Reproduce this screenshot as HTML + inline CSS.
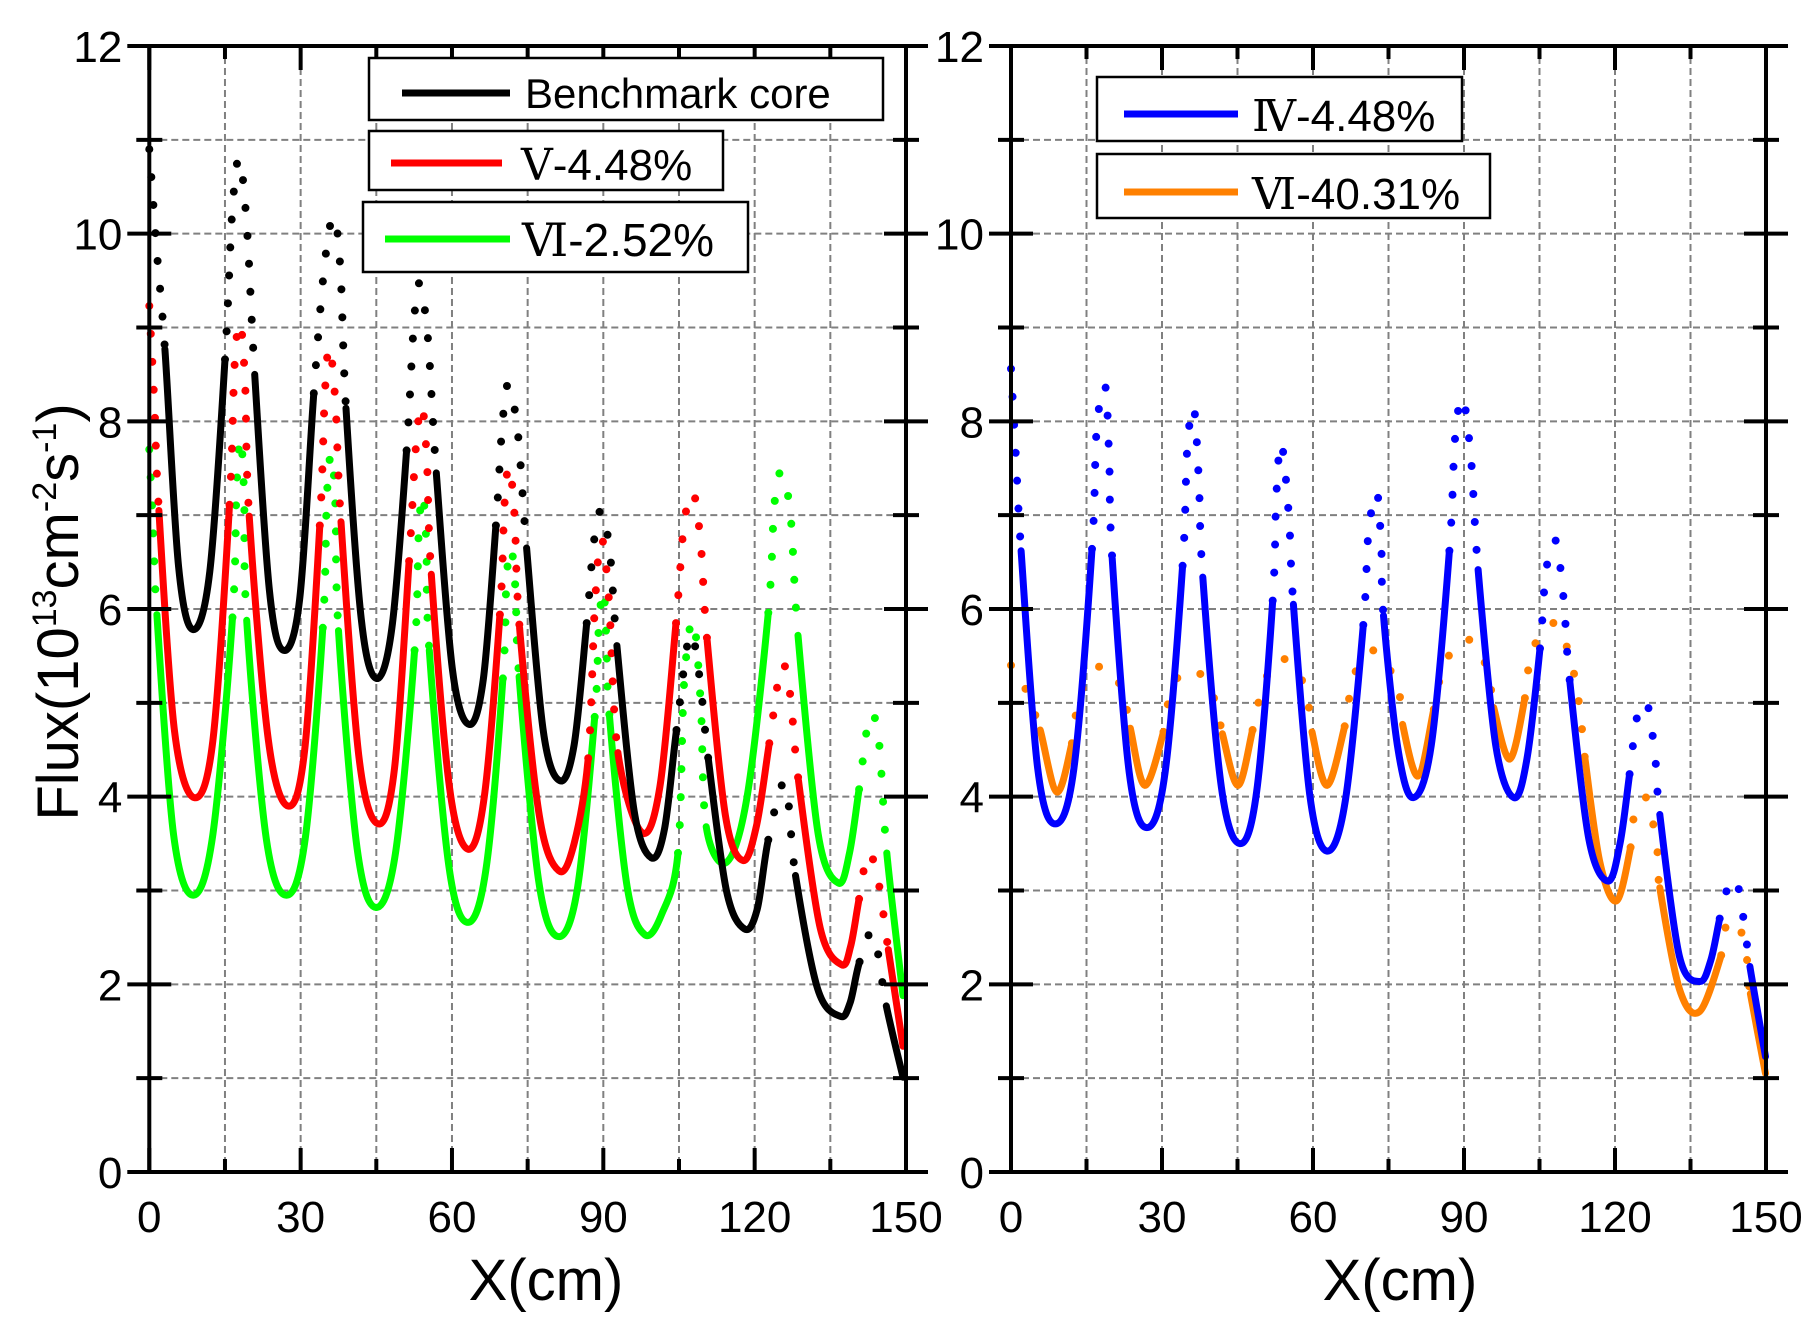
<!DOCTYPE html>
<html><head><meta charset="utf-8">
<style>
html,body{margin:0;padding:0;background:#fff;}
svg{display:block;font-family:"Liberation Sans",sans-serif;}
</style></head>
<body>
<svg id="chart" width="1820" height="1323" viewBox="0 0 1820 1323" xmlns="http://www.w3.org/2000/svg">
<rect x="0" y="0" width="1820" height="1323" fill="#fff"/>
<g id="grid"></g>
<g id="series"></g>
<g id="axes"></g>
<g id="legend-left">
  <rect x="369" y="58" width="514" height="62" fill="#fff" stroke="#000" stroke-width="2.5"/>
  <line x1="402" y1="93" x2="510" y2="93" stroke="#000" stroke-width="7"/>
  <text x="525" y="108" font-size="42">Benchmark core</text>
  <rect x="369" y="131" width="354" height="59" fill="#fff" stroke="#000" stroke-width="2.5"/>
  <line x1="391" y1="163" x2="502" y2="163" stroke="#ff0000" stroke-width="7"/>
  <text x="521" y="180" font-size="44"><tspan font-family="Liberation Serif, DejaVu Serif, serif">Ⅴ</tspan>-4.48%</text>
  <rect x="363" y="202" width="385" height="70" fill="#fff" stroke="#000" stroke-width="2.5"/>
  <line x1="385" y1="239" x2="510" y2="239" stroke="#00ff00" stroke-width="7"/>
  <text x="522" y="256" font-size="46"><tspan font-family="Liberation Serif, DejaVu Serif, serif">Ⅵ</tspan>-2.52%</text>
</g>
<g id="legend-right">
  <rect x="1097" y="77" width="365" height="64" fill="#fff" stroke="#000" stroke-width="2.5"/>
  <line x1="1124" y1="114" x2="1238" y2="114" stroke="#0000ff" stroke-width="7"/>
  <text x="1252" y="131" font-size="44"><tspan font-family="Liberation Serif, DejaVu Serif, serif">Ⅳ</tspan>-4.48%</text>
  <rect x="1097" y="154" width="393" height="64" fill="#fff" stroke="#000" stroke-width="2.5"/>
  <line x1="1124" y1="192" x2="1238" y2="192" stroke="#ff8000" stroke-width="7"/>
  <text x="1252" y="209" font-size="44"><tspan font-family="Liberation Serif, DejaVu Serif, serif">Ⅵ</tspan>-40.31%</text>
</g>
<text x="546" y="1300" font-size="58" text-anchor="middle">X(cm)</text>
<text x="1400" y="1300" font-size="58" text-anchor="middle">X(cm)</text>
<text transform="translate(78,612) rotate(-90)" font-size="58" text-anchor="middle">Flux(10<tspan dy="-22" font-size="34">13</tspan><tspan dy="22">cm</tspan><tspan dy="-22" font-size="34">-2</tspan><tspan dy="22">s</tspan><tspan dy="-22" font-size="34">-1</tspan><tspan dy="22">)</tspan></text>
</svg>
<script>
// ---- data (x in cm, flux in 1e13) ; style: 'd' dotted segment to next point, 's' solid
const benchX=[0,1.5,3.1,5.8,8.7,12.0,15.0,16.4,17.8,19.3,20.9,23.8,26.6,29.8,32.6,34.8,36.6,37.9,39.0,42.0,45.0,48.1,51.0,52.4,53.5,55.2,56.9,60.1,63.4,66.2,68.7,69.9,71.1,73.0,74.8,78.1,81.4,84.2,86.7,88.1,89.6,91.3,92.7,96.1,99.5,102.1,104.5,107.1,109.0,110.8,114.4,118.0,120.5,122.7,126.0,128.1,132.5,136.9,138.9,140.8,143.5,146.1,149.4];
const benchY=[10.9,9.8,8.77,6.45,5.78,6.4,8.66,10.2,10.8,10.1,8.5,6.2,5.56,6.1,8.30,9.7,10.18,9.6,8.14,5.9,5.26,5.8,7.69,9.0,9.47,8.9,7.45,5.35,4.77,5.25,6.89,7.9,8.39,7.9,6.65,4.7,4.17,4.55,5.85,6.7,7.05,6.6,5.61,3.85,3.35,3.65,4.71,5.72,5.3,4.41,3.0,2.59,2.8,3.54,4.14,3.16,1.95,1.66,1.8,2.24,2.54,1.77,1.01];
const benchS="dd"+"ssss"+"dddd"+"ssss"+"dddd"+"ssss"+"dddd"+"ssss"+"dddd"+"ssss"+"dddd"+"ssss"+"ddd"+"ssss"+"dd"+"ssss"+"dd"+"s";

const v448X=[0,1.0,1.9,5.0,8.9,12.6,15.9,16.9,18.0,19.0,19.8,23.6,27.5,30.8,33.8,34.8,35.7,36.9,38.0,41.6,45.4,48.6,51.5,52.8,54.0,55.0,55.9,59.5,63.2,66.4,69.5,70.4,71.3,72.4,73.4,77.3,81.2,84.2,87.0,88.3,89.6,91.1,92.9,97.6,101.2,104.4,106.0,107.8,109.3,110.6,114.2,117.7,120.4,122.9,125.3,127.0,128.7,133.0,137.2,139.0,140.7,142.5,144.5,146.5,149.4];
const v448Y=[9.23,8.2,7.05,4.7,3.99,4.6,7.11,8.6,9.05,8.4,6.99,4.6,3.90,4.5,6.89,8.3,8.79,8.2,6.93,4.4,3.71,4.3,6.51,7.7,8.17,7.6,6.37,4.1,3.44,4.0,5.94,7.1,7.52,7.0,5.80,3.8,3.21,3.5,4.41,6.0,6.75,6.1,4.47,3.62,4.1,5.85,6.9,7.24,6.7,5.66,3.8,3.32,3.7,4.57,5.39,5.1,4.17,2.6,2.21,2.4,2.91,3.40,3.1,2.37,1.34];
const v448S="dd"+"ssss"+"dddd"+"ssss"+"dddd"+"ssss"+"dddd"+"ssss"+"dddd"+"ssss"+"dddd"+"sss"+"dddd"+"ssss"+"ddd"+"ssss"+"ddd"+"s";

const vi252X=[0,0.8,1.5,4.8,8.7,12.6,16.5,17.3,18.1,18.8,19.3,23.2,27.2,30.9,34.4,35.2,36.1,36.9,37.5,41.2,44.9,48.8,52.6,53.4,54.2,54.9,55.5,59.4,63.2,66.8,70.1,70.8,71.7,72.6,73.3,77.2,81.0,84.8,88.3,89.1,90.0,90.6,91.2,94.7,98.2,101.6,104.8,106.0,107.8,109.3,110.4,114.4,118.5,122.7,123.9,125.3,127.1,128.6,132.6,136.6,138.8,140.7,142.8,144.6,146.2,149.4];
const vi252Y=[7.7,6.8,5.94,3.6,2.95,3.6,5.91,7.3,7.82,7.2,5.88,3.55,2.95,3.55,5.80,7.2,7.65,7.1,5.77,3.45,2.82,3.4,5.56,6.8,7.22,6.7,5.56,3.25,2.66,3.25,5.26,6.3,6.65,6.2,5.28,3.1,2.51,3.0,4.85,5.8,6.2,5.7,4.87,3.05,2.53,2.75,3.40,5.2,5.88,5.0,3.68,3.30,4.0,5.96,7.1,7.46,7.0,5.72,3.6,3.08,3.4,4.08,4.86,4.6,3.40,1.88];
const vi252S="dd"+"ssss"+"dddd"+"ssss"+"dddd"+"ssss"+"dddd"+"ssss"+"dddd"+"ssss"+"dddd"+"ssss"+"dddd"+"sss"+"dddd"+"ssss"+"ddd"+"s";

const iv448X=[0,1.0,2.0,5.3,8.8,12.5,16.1,17.0,18.7,19.5,20.1,23.5,27.0,30.6,34.1,35.0,36.3,37.3,38.1,41.8,45.5,48.8,52.0,52.7,53.7,55.2,56.1,59.4,62.8,66.4,70.0,71.0,72.7,73.6,74.0,76.9,79.9,83.5,87.1,88.2,89.7,91.4,92.8,96.3,99.9,102.5,105.1,106.3,108.2,109.8,111.0,114.8,118.6,121.0,122.9,124.4,126.4,128.0,128.9,132.8,136.8,139.0,140.8,142.2,144.1,145.8,146.8,149.9];
const iv448Y=[8.56,7.6,6.62,4.3,3.71,4.3,6.64,7.9,8.38,7.6,6.54,4.25,3.67,4.25,6.46,7.7,8.15,7.4,6.34,4.1,3.50,4.05,6.09,7.2,7.77,7.0,6.05,4.0,3.42,3.95,5.83,6.8,7.24,6.6,5.93,4.5,3.99,4.55,6.62,7.8,8.25,7.6,6.42,4.55,3.99,4.4,5.58,6.4,6.73,6.1,5.24,3.55,3.10,3.5,4.24,4.85,4.99,4.4,3.81,2.3,2.03,2.25,2.70,3.0,3.11,2.6,2.19,1.23];
const iv448S="ddssssddddssssddddssssddddssssddddssssddddssssddddssssddddssssddddss";

const vi4031X=[0,2.0,4.1,5.8,9.1,12.1,12.8,14.4,17.2,20.3,22.5,23.7,26.6,30.3,31.2,33.0,36.3,39.6,41.4,42.0,45.1,48.0,49.1,50.8,53.4,57.2,59.1,59.8,62.8,66.3,67.2,68.7,72.3,75.6,77.5,77.8,80.9,84.0,85.1,87.2,90.6,93.8,95.4,95.9,99.1,102.1,102.8,104.6,107.9,110.4,112.1,113.0,113.7,114.0,117.0,120.3,123.1,123.8,126.0,127.8,128.6,128.9,132.8,136.8,141.1,142.0,144.3,146.0,146.8,146.9,149.9];
const vi4031Y=[5.40,5.26,4.97,4.71,4.05,4.57,4.85,5.18,5.38,5.32,5.05,4.73,4.12,4.69,4.99,5.26,5.36,5.15,4.83,4.67,4.12,4.71,4.99,5.28,5.48,5.31,4.97,4.69,4.12,4.75,5.05,5.36,5.56,5.32,5.01,4.77,4.22,4.93,5.23,5.52,5.68,5.47,5.13,4.95,4.40,5.05,5.36,5.68,5.85,5.60,5.25,4.93,4.58,4.42,3.3,2.89,3.46,3.79,4.00,3.65,3.32,3.03,1.95,1.71,2.31,2.61,2.67,2.33,2.0,1.90,1.05];
const vi4031S="dddssddddddssddddddssddddddssddddddssddddddssddddddddsssdddddsssdddddss";

const xTicks=[0,30,60,90,120,150];
const yTicks=[0,2,4,6,8,10,12];

// ---- layout
const NS="http://www.w3.org/2000/svg";
const panels=[{x0:149.3,x1:906},{x0:1011,x1:1766}];
const yTop=46, yBot=1172;
function sx(p,v){return p.x0+(p.x1-p.x0)*v/150;}
function sy(v){return yBot-(yBot-yTop)*v/12;}
function mk(tag,attrs,parent){const e=document.createElementNS(NS,tag);for(const k in attrs)e.setAttribute(k,attrs[k]);parent.appendChild(e);return e;}

const grid=document.getElementById('grid'), axes=document.getElementById('axes'), series=document.getElementById('series');
panels.forEach((p,pi)=>{
  for(let gx=15;gx<150;gx+=15){
    const l=mk('line',{x1:sx(p,gx),x2:sx(p,gx),y1:yTop,y2:yBot,stroke:'#808080','stroke-width':2,'stroke-dasharray':'7 4'},grid);
    
    
  }
  for(let gy=1;gy<12;gy++){
    const l=mk('line',{x1:p.x0,x2:p.x1,y1:sy(gy),y2:sy(gy),stroke:'#808080','stroke-width':2,'stroke-dasharray':'7 4'},grid);
    
    
  }
  const fr=mk('rect',{x:p.x0,y:yTop,width:p.x1-p.x0,height:yBot-yTop,fill:'none',stroke:'#000','stroke-width':4},axes);
  
  
  for(let v=0;v<=12;v++){
    const len=(v%2===0)?22:13;
    [p.x0,p.x1].forEach(ax=>{
      mk('line',{x1:ax-len,x2:ax+len,y1:sy(v),y2:sy(v),stroke:'#000','stroke-width':4},axes);
    });
  }
  for(let v=0;v<=150;v+=15){
    const len=(v%30===0)?24:13;
    mk('line',{x1:sx(p,v),x2:sx(p,v),y1:yBot,y2:yBot-len,stroke:'#000','stroke-width':4},axes);
    mk('line',{x1:sx(p,v),x2:sx(p,v),y1:yTop,y2:yTop+len,stroke:'#000','stroke-width':4},axes);
  }
  yTicks.forEach(v=>{
    const t=mk('text',{x:p.x0-27,y:sy(v)+16,'font-size':44,'text-anchor':'end'},axes);
    t.textContent=String(v);
    
    
  });
  xTicks.forEach(v=>{
    const t=mk('text',{x:sx(p,v),y:1232,'font-size':44,'text-anchor':'middle'},axes);
    t.textContent=String(v);
    
    
  });
});

function drawSeries(p,xs,ys,st,color,name){
  const g=mk('g',{},series);
  
  
  const P=xs.map((x,i)=>[sx(p,x),sy(ys[i])]);
  const n=P.length;
  let i=0;
  while(i<n-1){
    const s=st[i]||'s';
    let d='M'+P[i][0].toFixed(1)+','+P[i][1].toFixed(1);
    let j=i;
    while(j<n-1 && (st[j]||'s')===s){
      const p0=P[Math.max(j-1,0)],p1=P[j],p2=P[j+1],p3=P[Math.min(j+2,n-1)];
      const c1=[p1[0]+(p2[0]-p0[0])/6,p1[1]+(p2[1]-p0[1])/6];
      const c2=[p2[0]-(p3[0]-p1[0])/6,p2[1]-(p3[1]-p1[1])/6];
      d+=' C'+c1[0].toFixed(1)+','+c1[1].toFixed(1)+' '+c2[0].toFixed(1)+','+c2[1].toFixed(1)+' '+p2[0].toFixed(1)+','+p2[1].toFixed(1);
      j++;
    }
    const attrs={d:d,fill:'none',stroke:color,'stroke-width':7,'stroke-linecap':'round','stroke-linejoin':'round'};
    if(s==='d'){attrs['stroke-width']=8;attrs['stroke-dasharray']='0 28';}
    const path=mk('path',attrs,g);
    
    
    i=j;
  }
}
drawSeries(panels[0],vi252X,vi252Y,vi252S,'#00ff00','series-vi-2.52');
drawSeries(panels[0],v448X,v448Y,v448S,'#ff0000','series-v-4.48');
drawSeries(panels[0],benchX,benchY,benchS,'#000000','series-benchmark');
drawSeries(panels[1],vi4031X,vi4031Y,vi4031S,'#ff8000','series-vi-40.31');
drawSeries(panels[1],iv448X,iv448Y,iv448S,'#0000ff','series-iv-4.48');
</script>
</body></html>
